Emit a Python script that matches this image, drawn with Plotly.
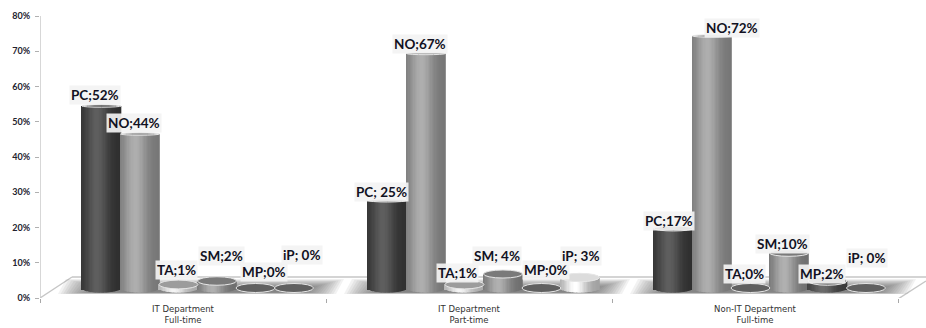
import math
import plotly.graph_objects as go

# Survey shares (%) per department group and device
groups = ["IT Department<br>Full-time", "IT Department<br>Part-time", "Non-IT Department<br>Full-time"]
devices = ["PC", "NO", "TA", "SM", "MP", "iP"]
pc_values = [52, 25, 17]
no_values = [44, 67, 72]
ta_values = [1, 1, 0]
sm_values = [2, 4, 10]
mp_values = [0, 0, 2]
ip_values = [0, 3, 0]
series_values = [pc_values, no_values, ta_values, sm_values, mp_values, ip_values]
y_ticks = [0, 10, 20, 30, 40, 50, 60, 70, 80]

# Cylinder shading: edge colour, highlight colour, lid colour
side_edge = ["#2e2e2e", "#767676", "#a8a8a8", "#6e6e6e", "#3a3a3a", "#a0a0a0"]
side_light = ["#5e5e5e", "#aeaeae", "#f4f4f4", "#b0b0b0", "#6a6a6a", "#ffffff"]
lid_fill = ["#4a4a4a", "#8e8e8e", "#9c9c9c", "#7a7a7a", "#6c6c6c", "#dcdcdc"]
lid_empty = "#606060"
lid_rim = "#e6e6e6"

# Label offsets from the top of each cylinder, in pixels (dx, dy)
label_dx = [[-6.5, -6, -2, 5, 8.5, 8], [-5.5, -6, -6.5, -6, 4.5, 1], [-4.5, 20, -5.5, -6, -5.5, 1]]
label_dy = [[11, 11, 14.5, 25, 16, 33], [8.5, 9.5, 11.5, 18, 18, 21.5], [7.5, 8, 14, 9, 7, 30]]
spaced_labels = {(1, 0), (1, 3)}

PX_GROUP = 286.0            # horizontal pixels per group
PX_PER_PCT = 3.5            # vertical pixels per percent on the depth-shifted scale
PLOT_H = 282.0              # height of the plot area
BASE_LIFT = 10.0            # cylinder bases sit this far above the wall's 0% line
BAR_STEP = 0.1346
BAR_START = 0.215
BAR_W = 39.0 / PX_GROUP
STRIPS = 30
FOOT_PX = 4.5


def mix(a, b, t):
    ca = [int(a[i:i + 2], 16) for i in (1, 3, 5)]
    cb = [int(b[i:i + 2], 16) for i in (1, 3, 5)]
    return "rgb(%d,%d,%d)" % tuple(round(p + (q - p) * t) for p, q in zip(ca, cb))


def lid_px(v):
    # Lids flatten as they rise toward eye level
    return max(1.2, 4.5 - 0.12 * v)


fig = go.Figure()

# Each cylinder is a run of narrow bars that builds up the round shading
strip_w = BAR_W / STRIPS
for s, values in enumerate(series_values):
    xs, ys, cols, foot_x, foot_d, foot_c = [], [], [], [], [], []
    for g, v in enumerate(values):
        left = g + BAR_START + BAR_STEP * s - BAR_W / 2
        for k in range(STRIPS):
            u = (k + 0.5) / STRIPS * 2 - 1
            shade = math.exp(-((u + 0.2) / 0.6) ** 2)
            col = mix(side_edge[s], side_light[s], shade)
            cx = left + (k + 0.5) * strip_w
            xs.append(cx)
            ys.append(v)
            cols.append(col)
            if v > 0:
                foot_x.append(cx)
                foot_d.append(FOOT_PX / PX_PER_PCT * math.sqrt(max(0.0, 1 - u * u)))
                foot_c.append(col)
    fig.add_trace(go.Bar(x=xs, y=ys, width=strip_w * 1.5, yaxis="y2", name=devices[s],
                         marker=dict(color=cols, line=dict(width=0)), hoverinfo="skip"))
    fig.add_trace(go.Bar(x=foot_x, y=foot_d, base=[-d for d in foot_d], width=strip_w * 1.5,
                         yaxis="y2", marker=dict(color=foot_c, line=dict(width=0)),
                         hoverinfo="skip", showlegend=False))

shapes = []
px_x = 1 / PX_GROUP
px_y = 80 / PLOT_H
wall = dict(color="#c6c6c6", width=1.4)
x_end = 886 * px_x
back = 21 * px_y

# Floor outline and side wall
shapes += [
    dict(type="line", xref="x", yref="y", x0=0, x1=0, y0=0, y1=80, line=wall, layer="below"),
    dict(type="line", xref="x", yref="y", x0=0, x1=858 * px_x, y0=-1 * px_y, y1=-1 * px_y, line=wall, layer="below"),
    dict(type="line", xref="x", yref="y", x0=0, x1=32 * px_x, y0=0, y1=back, line=wall, layer="below"),
    dict(type="line", xref="x", yref="y", x0=32 * px_x, x1=x_end, y0=back, y1=back, line=wall, layer="below"),
    dict(type="line", xref="x", yref="y", x0=858 * px_x, x1=x_end, y0=-1 * px_y, y1=17 * px_y, line=wall, layer="below"),
]

# Soft shadow under each group, layered from wide and faint to narrow and dense
SHADOW_LAYERS = 14
for g in range(3):
    for i in range(SHADOW_LAYERS):
        t = i / (SHADOW_LAYERS - 1)
        xa = g + (18 + 34 * t) * px_x
        xb = g + (296 - 34 * t) * px_x
        ya = (4.0 + 1.5 * t) * px_y
        yb = (19.0 - 9.0 * t) * px_y
        skew = 8 * px_x
        path = (f"M {xa:.4f} {ya:.3f} L {xb:.4f} {ya:.3f} "
                f"L {xb + skew:.4f} {yb:.3f} L {xa + skew:.4f} {yb:.3f} Z")
        shapes.append(dict(type="path", xref="x", yref="y", layer="below", path=path,
                           fillcolor="rgba(70,70,70,0.07)", line=dict(width=0)))

annotations = []
for s, values in enumerate(series_values):
    for g, v in enumerate(values):
        cx = g + BAR_START + BAR_STEP * s
        ry = lid_px(v) / PX_PER_PCT
        shapes.append(dict(type="circle", xref="x", yref="y2", layer="above",
                           x0=cx - BAR_W / 2, x1=cx + BAR_W / 2, y0=v - ry, y1=v + ry,
                           fillcolor=lid_fill[s] if v > 0 else lid_empty,
                           line=dict(color=lid_rim, width=1)))
        sep = "; " if (g, s) in spaced_labels or s == 5 else ";"
        annotations.append(dict(xref="x", yref="y2", x=cx, y=v, xshift=label_dx[g][s], yshift=label_dy[g][s],
                                text=f"<b>{devices[s]}{sep}{v}%</b>", showarrow=False,
                                xanchor="center", yanchor="middle", bgcolor="rgba(243,243,243,0.92)",
                                borderpad=1, font=dict(family="Lato", size=13.5, color="#111122")))

y2_low = -BASE_LIFT / PX_PER_PCT
y2_high = y2_low + PLOT_H / PX_PER_PCT

fig.update_layout(
    width=926, height=328, autosize=False,
    margin=dict(l=40, r=0, t=16, b=30),
    paper_bgcolor="white", plot_bgcolor="white",
    barmode="overlay", showlegend=False,
    shapes=shapes, annotations=annotations,
    xaxis=dict(range=[0, x_end], tickmode="array", tickvals=[0.5, 1.5, 2.5], ticktext=groups,
               ticks="", showgrid=False, zeroline=False, showline=False, ticklabelstandoff=4,
               tickfont=dict(family="DejaVu Sans", size=8.5, color="#333333"),
               minor=dict(tickvals=[0, 1, 2, 3], ticks="outside", ticklen=4, tickcolor="#a8a8a8", showgrid=False)),
    yaxis=dict(range=[0, 80], tickmode="array", tickvals=y_ticks, ticktext=[f"{t}%" for t in y_ticks],
               ticks="outside", ticklen=4, tickcolor="#b0b0b0", showgrid=False, zeroline=False, showline=False,
               ticklabelstandoff=3,
               tickfont=dict(family="Lato", size=9, color="#22222e", weight="bold")),
    yaxis2=dict(range=[y2_low, y2_high], overlaying="y", visible=False),
)

fig.write_html("out.html")
